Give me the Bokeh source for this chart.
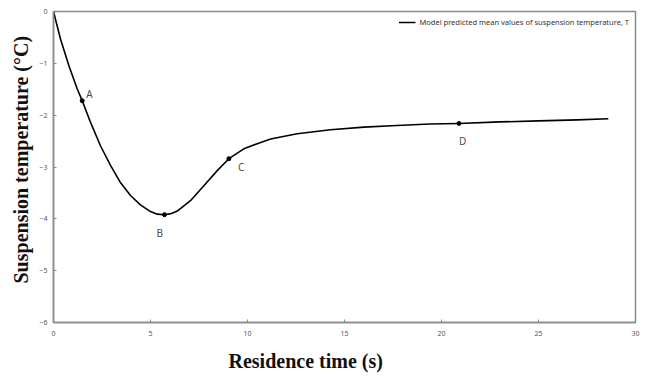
from bokeh.plotting import figure
from bokeh.models import Range1d, Legend, LegendItem, ColumnDataSource, FixedTicker, Label, Title
from bokeh.embed import file_html
from bokeh.resources import INLINE

# Model curve
time_s = [0, 0.36, 0.79, 1.22, 1.48, 1.91, 2.42, 2.94, 3.45, 3.97, 4.48, 5.0, 5.35, 5.72,
          6.05, 6.38, 7.06, 7.75, 8.44, 9.04, 9.81, 10.5, 11.19, 12.56, 14.28, 16.0, 17.7,
          19.4, 20.9, 23.0, 25.0, 27.0, 28.6]
temp_c = [0, -0.53, -1.04, -1.49, -1.72, -2.14, -2.59, -2.97, -3.30, -3.55, -3.73, -3.86,
          -3.91, -3.92, -3.90, -3.85, -3.65, -3.36, -3.07, -2.84, -2.65, -2.55, -2.46,
          -2.36, -2.28, -2.23, -2.20, -2.17, -2.16, -2.13, -2.11, -2.09, -2.07]

# Marked points
pt_names = ["A", "B", "C", "D"]
pt_time = [1.48, 5.72, 9.04, 20.9]
pt_temp = [-1.72, -3.92, -2.84, -2.16]

x_ticks = [0, 5, 10, 15, 20, 25, 30]
y_ticks = [0, -1, -2, -3, -4, -5, -6]
x_title = "Residence time (s)"
y_title = "Suspension temperature (°C)"

p = figure(width=645, height=381, output_backend="svg", toolbar_location=None,
           x_range=Range1d(0, 30), y_range=Range1d(-6, 0),
           min_border_left=53, min_border_right=10, min_border_top=11, min_border_bottom=59)
p.background_fill_color = "white"
p.border_fill_color = "white"
p.outline_line_color = "#8a8a8a"
p.outline_line_width = 1.5
p.xgrid.visible = False
p.ygrid.visible = False

src = ColumnDataSource(dict(t=time_s, T=temp_c))
line = p.line("t", "T", source=src, line_color="black", line_width=1.6, line_join="round")

psrc = ColumnDataSource(dict(t=pt_time, T=pt_temp, name=pt_names))
p.scatter("t", "T", source=psrc, size=4, color="black")

# point labels, offset in screen pixels
offsets = {"A": (4, 7), "B": (-8, -18), "C": (9, -8), "D": (0, -18)}
for n, tx, ty in zip(pt_names, pt_time, pt_temp):
    dx, dy = offsets[n]
    p.add_layout(Label(x=tx, y=ty, x_offset=dx, y_offset=dy, text=n,
                       text_font="Noto Sans", text_font_size="10px",
                       text_color="#4a4a55", text_baseline="middle", text_align="left"))

p.add_layout(Label(x=0, y=-2, x_offset=-15, y_offset=11, text="sat",
                   text_font="Noto Sans", text_font_size="9px",
                   text_color="#555555", text_baseline="middle"))

for ax in (p.xaxis[0], p.yaxis[0]):
    ax.axis_line_color = "#8a8a8a"
    ax.axis_line_width = 1.5
    ax.major_tick_line_color = "#8a8a8a"
    ax.major_tick_in = 3
    ax.major_tick_out = 0
    ax.minor_tick_line_color = None
    ax.major_label_text_font = "Noto Sans"
    ax.major_label_text_font_size = "7px"
    ax.major_label_text_color = "#555555"

p.xaxis[0].ticker = FixedTicker(ticks=x_ticks)
p.yaxis[0].ticker = FixedTicker(ticks=y_ticks)
p.xaxis[0].major_label_standoff = 8
p.yaxis[0].major_label_standoff = 6

xt = Title(text=x_title, align="left", offset=175, standoff=18,
           text_font="Liberation Serif", text_font_style="bold", text_font_size="20px",
           text_color="#111111")
p.add_layout(xt, "below")
yt = Title(text=y_title, align="left", offset=39, standoff=9,
           text_font="Liberation Serif", text_font_style="bold", text_font_size="20px",
           text_color="#111111")
p.add_layout(yt, "left")

legend = Legend(items=[LegendItem(label="Model predicted mean values of suspension temperature, T",
                                  renderers=[line])],
                location="top_right", border_line_color=None, background_fill_alpha=0,
                label_text_font="Noto Sans", label_text_font_size="7.5px",
                label_text_color="#333333", glyph_width=17, glyph_height=8,
                padding=2, margin=6, label_standoff=4, label_height=8)
p.add_layout(legend)

open("out.html", "w").write(file_html(p, INLINE))
